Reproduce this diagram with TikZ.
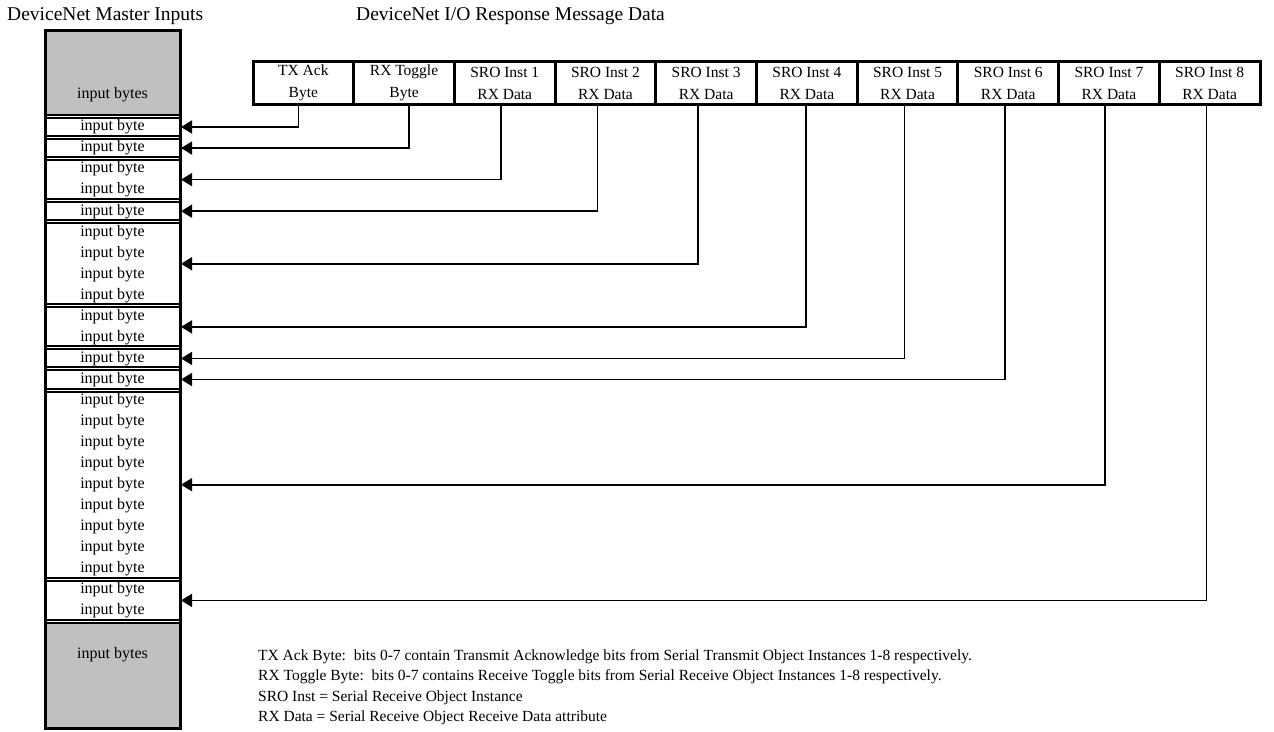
\documentclass[tikz,border=0pt]{standalone}
\usepackage{fontspec}
\setmainfont{Liberation Serif}
\usetikzlibrary{arrows.meta}
\definecolor{blockgray}{RGB}{192,192,192}
\begin{document}
\begin{tikzpicture}[x=1pt,y=-1pt,
  title/.style={font=\fontsize{19.5}{24}\selectfont, anchor=base west, inner sep=0},
  hdr/.style={draw, line width=3pt, minimum width=100.7pt, minimum height=43pt,
    inner sep=0, align=center, font=\fontsize{15.5}{22}\selectfont},
  grp/.style={draw, line width=2pt, minimum width=135pt, inner sep=0, align=center,
    font=\fontsize{16}{21.04}\selectfont},
  gblock/.style={draw, line width=2.5pt, fill=blockgray, minimum width=135pt, inner sep=0},
  btext/.style={font=\fontsize{16}{20}\selectfont, inner sep=0},
  note/.style={font=\fontsize{15.5}{20}\selectfont, anchor=base west, inner sep=0},
  conn/.style={line width=1.6pt, -{Triangle[length=11pt,width=13pt]}}
]
\useasboundingbox (0,0) rectangle (1274,731);

% titles
\node[title] (ttl) at (7,20) {DeviceNet Master Inputs};
\node[title] (ttr) at (356,20) {DeviceNet I/O Response Message Data};

% response message header boxes
\foreach \n/\t [count=\i from 0] in {h0/{TX Ack\\Byte}, h1/{RX Toggle\\Byte},
  h2/{SRO Inst 1\\RX Data}, h3/{SRO Inst 2\\RX Data}, h4/{SRO Inst 3\\RX Data},
  h5/{SRO Inst 4\\RX Data}, h6/{SRO Inst 5\\RX Data}, h7/{SRO Inst 6\\RX Data},
  h8/{SRO Inst 7\\RX Data}, h9/{SRO Inst 8\\RX Data}}
  \node[hdr] (\n) at ({253+100.7*(\i+0.5)},83) {\t};

% master input column: gray blocks
\node[gblock, minimum height=85pt] (topblk) at (112.5,72.5) {};
\node[btext] (toplbl) at (112.5,95) {input bytes};
\node[gblock, minimum height=105pt] (botblk) at (112.5,675.5) {};
\node[btext] (botlbl) at (112.5,655) {input bytes};

% input byte groups (first row, last row)
\foreach \n/\a/\b in {g0/0/0, g1/1/1, g2/2/3, g3/4/4, g4/5/8, g5/9/10,
  g6/11/11, g7/12/12, g8/13/21, g9/22/23}{
  \pgfmathsetmacro{\ytop}{116.5+21.04*\a}
  \pgfmathsetmacro{\ybot}{116.5+21.04*(\b+1)}
  \pgfmathsetmacro{\hh}{\ybot-\ytop-3}
  \pgfmathtruncatemacro{\nrows}{\b-\a}
  \def\txt{input byte}
  \ifnum\nrows>0 \foreach \k in {1,...,\nrows}{\xdef\txt{\txt\noexpand\\input byte}}\fi
  \node[grp, minimum height=\hh pt] (\n) at (112.5,{(\ytop+\ybot)/2}) {\txt};
}

% column outline
\draw[line width=3pt] (45,30) rectangle (180,728);

% connectors from header fields to input bytes
\foreach \h/\g/\dx in {h0/g0/-5, h1/g1/5, h2/g2/-4, h3/g3/-8, h4/g4/-8,
  h5/g5/-1, h6/g6/-3, h7/g7/-3, h8/g8/-4, h9/g9/-3}
  \draw[conn] ([xshift=\dx pt]\h.south) |- (\g.east);

% notes
\node[note] (n1) at (258,660) {TX Ack Byte:\ \ bits 0-7 contain Transmit Acknowledge bits from Serial Transmit Object Instances 1-8 respectively.};
\node[note] (n2) at (258,680.5) {RX Toggle Byte:\ \ bits 0-7 contains Receive Toggle bits from Serial Receive Object Instances 1-8 respectively.};
\node[note] (n3) at (258,701) {SRO Inst = Serial Receive Object Instance};
\node[note] (n4) at (258,721.5) {RX Data = Serial Receive Object Receive Data attribute};
\end{tikzpicture}
\end{document}
